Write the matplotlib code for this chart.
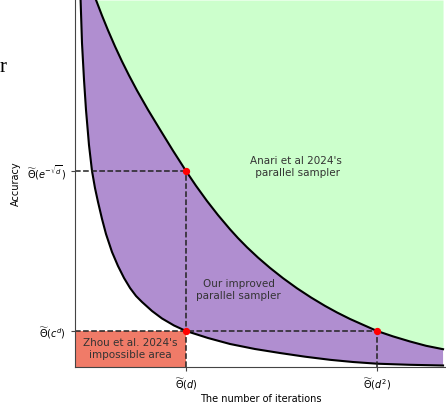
import numpy as np
import matplotlib
matplotlib.use("Agg")
import matplotlib.pyplot as plt

# boundary of Anari et al. region
upper_x = [0.571, 0.734, 0.897, 1.087, 1.277, 1.467, 1.685, 1.984, 2.310, 2.663,
           3.016, 3.288, 3.587, 3.886, 4.212, 4.429, 4.674, 4.973, 5.299, 5.652,
           6.033, 6.413, 6.793, 7.120, 7.473, 7.826, 8.207, 8.641, 9.103, 9.538, 10.0]
upper_y = [10.0, 9.575, 9.174, 8.736, 8.327, 7.946, 7.534, 7.008, 6.469, 5.894,
           5.341, 4.937, 4.523, 4.139, 3.752, 3.512, 3.262, 2.981, 2.700, 2.420,
           2.144, 1.894, 1.665, 1.485, 1.308, 1.150, 0.981, 0.834, 0.695, 0.578, 0.485]

# lower bound curve
lower_x = [0.152, 0.190, 0.245, 0.299, 0.380, 0.462, 0.543, 0.625, 0.734, 0.842,
           1.005, 1.168, 1.332, 1.495, 1.658, 1.821, 2.092, 2.364, 2.690, 3.016,
           3.614, 4.212, 4.891, 5.571, 6.250, 6.929, 7.554, 8.207, 9.103, 10.0]
lower_y = [10.0, 8.828, 7.820, 7.003, 6.049, 5.341, 4.877, 4.496, 4.033, 3.624,
           3.134, 2.752, 2.425, 2.153, 1.935, 1.771, 1.526, 1.322, 1.131, 0.981,
           0.790, 0.627, 0.490, 0.381, 0.281, 0.196, 0.136, 0.090, 0.060, 0.041]

# marked levels
x_d = 3.016
x_d2 = 8.207
y_exp = 5.341
y_cd = 0.981

xtick_labels = [r'$\widetilde{\Theta}(d)$', r'$\widetilde{\Theta}(d^2)$']
ytick_labels = [r'$\widetilde{\Theta}(c^d)$', r'$\widetilde{\Theta}(e^{-\sqrt{d}})$']

fig = plt.figure(figsize=(4.46, 4.05), dpi=100)
ax = fig.add_axes([75 / 446, 38 / 405, 1 - 75 / 446, 367 / 405])

# regions
ax.fill_between(upper_x, upper_y, 10, color='#ccffcc', lw=0)
ax.fill(np.concatenate([upper_x, lower_x[::-1]]), np.concatenate([upper_y, lower_y[::-1]]),
        color='#b08ed0', lw=0)
ax.fill_between([0, x_d], 0, y_cd, color='#f07b68', lw=0)

ax.plot(upper_x, upper_y, color='black', lw=1.5, solid_joinstyle='round')
ax.plot(lower_x, lower_y, color='black', lw=1.5, solid_joinstyle='round')

# guide lines
dash = dict(color='#222222', ls='--', lw=1.1)
ax.plot([0, x_d], [y_exp, y_exp], **dash)
ax.plot([x_d, x_d], [0, y_exp], **dash)
ax.plot([0, x_d2], [y_cd, y_cd], **dash)
ax.plot([x_d2, x_d2], [0, y_cd], **dash)

ax.scatter([x_d, x_d, x_d2], [y_exp, y_cd, y_cd], color='red', s=18, zorder=5)

ax.text(6.0, 5.45, "Anari et al 2024's\n parallel sampler", ha='center', va='center',
        fontsize=7.5, color='#333333')
ax.text(4.45, 2.1, "Our improved\nparallel sampler", ha='center', va='center',
        fontsize=7.5, color='#333333')
ax.text(1.5, 0.49, "Zhou et al. 2024's\nimpossible area", ha='center', va='center',
        fontsize=7.5, color='#333333')

ax.set_xlim(0, 10.08)
ax.set_ylim(0, 10)
ax.set_xticks([x_d, x_d2])
ax.set_xticklabels(xtick_labels)
ax.set_yticks([y_cd, y_exp])
ax.set_yticklabels(ytick_labels)
ax.tick_params(labelsize=7, length=3, width=0.8, color='#444444')
ax.set_xlabel('The number of iterations', fontsize=7, labelpad=2)
ax.set_ylabel('Accuracy', fontsize=7)
ax.spines['top'].set_visible(False)
ax.spines['right'].set_visible(False)
for s in ['left', 'bottom']:
    ax.spines[s].set_color('#444444')
    ax.spines[s].set_linewidth(0.8)

# leftover glyph from surrounding page
fig.text(0.0, 1 - 68 / 405, 'r', fontsize=15, family='Liberation Serif', va='center', ha='left')

fig.savefig('out.png', dpi=100)
